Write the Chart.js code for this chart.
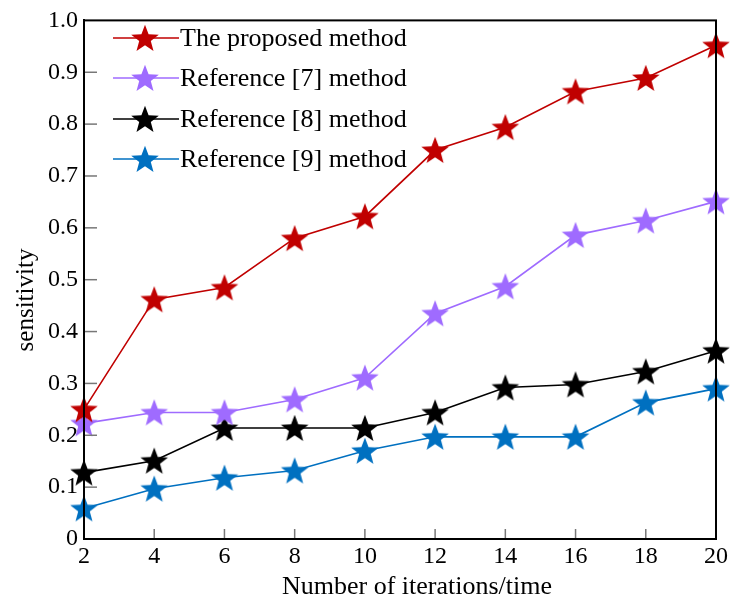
<!DOCTYPE html>
<html>
<head>
<meta charset="utf-8">
<script src="https://cdn.jsdelivr.net/npm/chart.js@4.4.0/dist/chart.umd.min.js"></script>
<style>
  html, body { margin: 0; padding: 0; background: #fff; }
  #wrap { width: 733px; height: 598px; }
</style>
</head>
<body>
<div id="wrap"><canvas id="chart" width="733" height="598"></canvas></div>
<script>
const iterations = [2, 4, 6, 8, 10, 12, 14, 16, 18, 20];
const proposedMethod = [0.25, 0.462, 0.485, 0.58, 0.622, 0.75, 0.794, 0.863, 0.889, 0.952];
const ref7Method = [0.223, 0.244, 0.244, 0.269, 0.311, 0.435, 0.487, 0.586, 0.614, 0.651];
const ref8Method = [0.128, 0.151, 0.214, 0.214, 0.214, 0.244, 0.292, 0.298, 0.323, 0.363];
const ref9Method = [0.059, 0.097, 0.118, 0.132, 0.170, 0.197, 0.197, 0.197, 0.263, 0.290];
const seriesNames = ["The proposed method", "Reference [7] method", "Reference [8] method", "Reference [9] method"];
const seriesColors = ["#C00000", "#9F6BFF", "#000000", "#0070C0"];

const FONT = "'Liberation Serif', 'Times New Roman', serif";

// filled 5-point star used as point style
function makeStar(color, size) {
  const c = document.createElement("canvas");
  c.width = size; c.height = size;
  const ctx = c.getContext("2d");
  const cx = size / 2, cy = size / 2;
  const outer = size / 2 - 0.5, inner = outer * 0.42;
  ctx.beginPath();
  for (let i = 0; i < 10; i++) {
    const r = i % 2 === 0 ? outer : inner;
    const a = -Math.PI / 2 + i * Math.PI / 5;
    ctx.lineTo(cx + r * Math.cos(a), cy + r * Math.sin(a) + size * 0.04);
  }
  ctx.closePath();
  ctx.fillStyle = color;
  ctx.fill();
  return c;
}

const stars = seriesColors.map((c) => makeStar(c, 30));
const allSeries = [proposedMethod, ref7Method, ref8Method, ref9Method];

const datasets = allSeries.map((values, i) => ({
  label: seriesNames[i],
  data: values,
  borderColor: seriesColors[i],
  backgroundColor: seriesColors[i],
  borderWidth: 1.6,
  pointStyle: stars[i],
  pointRadius: 15,
  pointHoverRadius: 15,
  clip: false,
  tension: 0,
}));

// frame, inner tick marks, axis titles and the legend inside the plot
const framePlugin = {
  id: "frame",
  afterDraw(chart) {
    const { ctx, chartArea: a, scales } = chart;
    ctx.save();
    // inner ticks
    ctx.strokeStyle = "#777";
    ctx.lineWidth = 1.5;
    for (let v = 1; v <= 9; v++) {
      const y = scales.y.getPixelForValue(v / 10);
      ctx.beginPath(); ctx.moveTo(a.left, y); ctx.lineTo(a.left + 13, y); ctx.stroke();
    }
    for (let i = 1; i < iterations.length - 1; i++) {
      const x = scales.x.getPixelForValue(i);
      ctx.beginPath(); ctx.moveTo(x, a.bottom); ctx.lineTo(x, a.bottom - 10); ctx.stroke();
    }
    // box
    ctx.strokeStyle = "#000";
    ctx.lineWidth = 2;
    ctx.strokeRect(a.left, a.top, a.right - a.left, a.bottom - a.top);

    // axis titles
    ctx.fillStyle = "#000";
    ctx.textAlign = "center";
    ctx.textBaseline = "alphabetic";
    ctx.font = "26px " + FONT;
    ctx.fillText("Number of iterations/time", 417, 594);
    ctx.save();
    ctx.translate(33, 300);
    ctx.rotate(-Math.PI / 2);
    ctx.font = "25px " + FONT;
    ctx.fillText("sensitivity", 0, 0);
    ctx.restore();

    // legend
    ctx.font = "26px " + FONT;
    ctx.textAlign = "left";
    ctx.textBaseline = "middle";
    const legendY = [38, 78, 119, 159];
    chart.data.datasets.forEach((ds, i) => {
      const y = legendY[i];
      ctx.strokeStyle = ds.borderColor;
      ctx.lineWidth = 1.6;
      ctx.beginPath(); ctx.moveTo(113, y); ctx.lineTo(179, y); ctx.stroke();
      ctx.drawImage(stars[i], 145 - 15, y - 15, 30, 30);
      ctx.fillStyle = "#000";
      ctx.fillText(ds.label, 180, y + 1);
    });
    ctx.restore();
  },
};

new Chart(document.getElementById("chart"), {
  type: "line",
  data: { labels: iterations, datasets: datasets },
  options: {
    responsive: false,
    animation: false,
    layout: { padding: { left: 0, right: 17, top: 15, bottom: 0 } },
    plugins: { legend: { display: false }, tooltip: { enabled: false } },
    scales: {
      x: {
        offset: false,
        grid: { display: false, drawTicks: false },
        border: { display: true, color: "#000", width: 2 },
        ticks: { color: "#000", font: { family: FONT, size: 24 }, padding: 3, maxRotation: 0 },
        afterFit(scale) { scale.height = 59; },
      },
      y: {
        min: 0, max: 1,
        grid: { display: false, drawTicks: false },
        border: { display: true, color: "#000", width: 2 },
        ticks: {
          stepSize: 0.1, color: "#000", padding: 6,
          font: { family: FONT, size: 24 },
          callback: (v) => (v === 0 ? "0" : v.toFixed(1)),
        },
        afterFit(scale) { scale.width = 84; },
      },
    },
  },
  plugins: [framePlugin],
});
</script>
</body>
</html>
